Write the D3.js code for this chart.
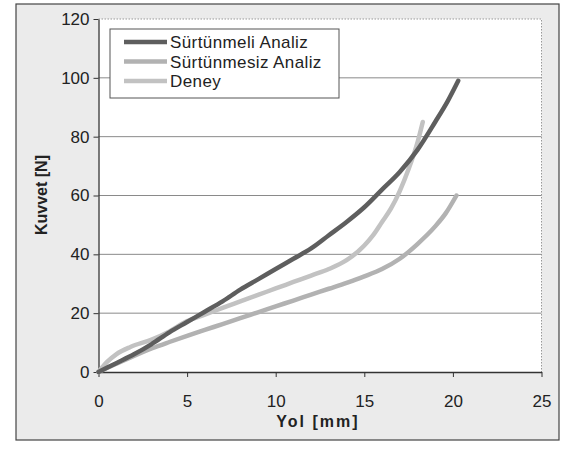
<!DOCTYPE html>
<html>
<head>
<meta charset="utf-8">
<script src="https://cdn.jsdelivr.net/npm/d3@7"></script>
<style>
  body { margin: 0; background: #fff; }
  svg { display: block; font-family: "Liberation Sans", Arial, sans-serif; }
  .tick text { font-size: 17px; fill: #222; }
  .axis path, .axis line { stroke: #333; }
  .grid line { stroke: #8a8a8a; stroke-width: 1; }
  .title { font-size: 16px; font-weight: bold; fill: #222; }
  .legend text { font-size: 17px; fill: #222; letter-spacing: 0.4px; }
</style>
</head>
<body>
<svg id="chart"></svg>
<script>
// data
const seriesNames = ['Sürtünmeli Analiz', 'Sürtünmesiz Analiz', 'Deney']
const surtunmeliX = [0, 1, 2, 3, 4, 5, 6, 7, 8, 9, 10, 11, 12, 13, 14, 15, 16, 17, 18, 19, 19.7, 20.3]
const surtunmeliY = [0, 3, 6, 9.5, 13.5, 17, 20.5, 24, 28, 31.5, 35, 38.5, 42, 46.5, 51, 56, 62, 68, 75.5, 85, 92, 99]
const surtunmesizX = [0, 1, 2, 3, 4, 5, 6, 7, 8, 9, 10, 11, 12, 13, 14, 15, 16, 17, 18, 19, 19.6, 20.2]
const surtunmesizY = [0, 2.8, 5.5, 8, 10.2, 12.3, 14.3, 16.3, 18.3, 20.3, 22.3, 24.3, 26.3, 28.3, 30.3, 32.5, 35, 38.5, 43.5, 49.5, 54, 60]
const deneyX = [0, 0.5, 1, 1.8, 3, 4, 5, 6, 7, 8, 9, 10, 11, 12, 13, 14, 15, 15.5, 16, 16.5, 17, 17.5, 18, 18.3]
const deneyY = [0, 3.5, 6, 8.5, 11, 13.8, 17.3, 19.5, 21.8, 24, 26.2, 28.4, 30.6, 32.8, 35, 38, 43, 46.5, 51, 55.5, 61.5, 69, 78, 85]
const xTicks = [0, 5, 10, 15, 20, 25]
const yTicks = [0, 20, 40, 60, 80, 100, 120]

//consts
const
  width = 572,
  height = 452,
  plotLeft = 98.5,
  plotRight = 541.5,
  plotTop = 19,
  plotBottom = 372

const series = [
  {name: seriesNames[0], xs: surtunmeliX, ys: surtunmeliY, color: '#5e5e5e', w: 4.5},
  {name: seriesNames[1], xs: surtunmesizX, ys: surtunmesizY, color: '#b2b2b2', w: 4.5},
  {name: seriesNames[2], xs: deneyX, ys: deneyY, color: '#c2c2c2', w: 4.5}
]

const svg = d3.select('#chart')
  .attr('width', width)
  .attr('height', height)

//outer background + frame
svg.append('rect')
  .attr('x', 0).attr('y', 0)
  .attr('width', width).attr('height', height)
  .attr('fill', '#ffffff')
svg.append('rect')
  .attr('x', 16).attr('y', 4)
  .attr('width', 543).attr('height', 436)
  .attr('fill', '#ebebeb')
  .attr('stroke', '#444')
  .attr('stroke-width', 1.2)

const x = d3.scaleLinear().domain([0, 25]).range([plotLeft, plotRight])
const y = d3.scaleLinear().domain([0, 120]).range([plotBottom, plotTop])

//plot area
svg.append('rect')
  .attr('x', plotLeft).attr('y', plotTop)
  .attr('width', plotRight - plotLeft).attr('height', plotBottom - plotTop)
  .attr('fill', '#fff')
svg.append('path')
  .attr('d', `M${plotLeft},${plotTop}H${plotRight}V${plotBottom}`)
  .attr('fill', 'none')
  .attr('stroke', '#999')
  .attr('stroke-dasharray', '1.5,1.5')

//grid
svg.append('g')
  .attr('class', 'grid')
  .selectAll('line')
  .data(yTicks.filter(d => d > 0 && d < 120))
  .enter()
  .append('line')
  .attr('x1', plotLeft).attr('x2', plotRight)
  .attr('y1', d => y(d)).attr('y2', d => y(d))

//axes
svg.append('g')
  .attr('class', 'axis')
  .attr('transform', `translate(0,${plotBottom})`)
  .call(d3.axisBottom(x).tickValues(xTicks).tickSize(5).tickPadding(18).tickSizeOuter(0))
svg.append('g')
  .attr('class', 'axis')
  .attr('transform', `translate(${plotLeft},0)`)
  .call(d3.axisLeft(y).tickValues(yTicks).tickSize(5).tickPadding(4).tickSizeOuter(0))
svg.selectAll('.axis .domain').attr('stroke-width', 1.3)

//titles
svg.append('text')
  .attr('class', 'title')
  .attr('x', 318).attr('y', 427)
  .attr('text-anchor', 'middle')
  .style('letter-spacing', '2px')
  .text('Yol [mm]')
svg.append('text')
  .attr('class', 'title')
  .attr('transform', 'translate(47,195) rotate(-90)')
  .attr('text-anchor', 'middle')
  .text('Kuvvet [N]')

//lines
const line = d3.line()
  .x(d => x(d[0]))
  .y(d => y(d[1]))
  .curve(d3.curveMonotoneX)

svg.append('g')
  .selectAll('path')
  .data(series.slice().reverse())
  .enter()
  .append('path')
  .attr('d', s => line(s.xs.map((v, i) => [v, s.ys[i]])))
  .attr('fill', 'none')
  .attr('stroke', s => s.color)
  .attr('stroke-width', s => s.w)
  .attr('stroke-linecap', 'round')
  .attr('stroke-linejoin', 'round')

//legend
const legend = svg.append('g').attr('class', 'legend')
legend.append('rect')
  .attr('x', 110).attr('y', 29)
  .attr('width', 229).attr('height', 69)
  .attr('fill', '#fff')
  .attr('stroke', '#555')
const item = legend.selectAll('g.item')
  .data(series)
  .enter()
  .append('g')
  .attr('class', 'item')
  .attr('transform', (d, i) => `translate(0,${42 + i * 19.5})`)
item.append('line')
  .attr('x1', 124).attr('x2', 167)
  .attr('stroke', d => d.color)
  .attr('stroke-width', d => d.w)
item.append('text')
  .attr('x', 170)
  .attr('dy', '0.36em')
  .text(d => d.name)
</script>
</body>
</html>
